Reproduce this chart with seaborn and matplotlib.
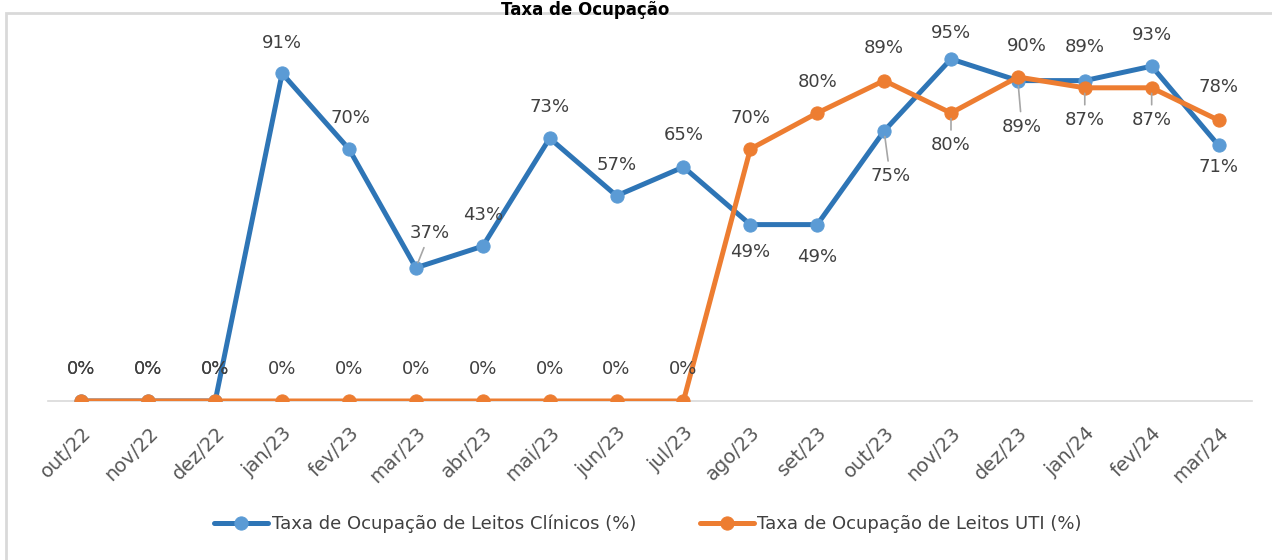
import matplotlib
matplotlib.use("Agg")
import matplotlib.pyplot as plt
import seaborn as sns
import pandas as pd
from matplotlib.patches import Rectangle

# chart data
months = ['out/22', 'nov/22', 'dez/22', 'jan/23', 'fev/23', 'mar/23', 'abr/23', 'mai/23', 'jun/23',
          'jul/23', 'ago/23', 'set/23', 'out/23', 'nov/23', 'dez/23', 'jan/24', 'fev/24', 'mar/24']
clinicos = [0, 0, 0, 91, 70, 37, 43, 73, 57, 65, 49, 49, 75, 95, 89, 89, 93, 71]
uti = [0, 0, 0, 0, 0, 0, 0, 0, 0, 0, 70, 80, 89, 80, 90, 87, 87, 78]
label_clin = 'Taxa de Ocupação de Leitos Clínicos (%)'
label_uti = 'Taxa de Ocupação de Leitos UTI (%)'

# label offsets in pixels (dx, dy) and whether a leader line is drawn
off_clin = [(0, 32), (0, 32), (0, 32), (0, 30), (1, 31), (14, 35), (0, 31), (0, 31), (0, 31),
            (0, 32), (0, -27), (0, -32), (6, -45), (0, 26), (4, -46), (0, 34), (0, 31), (0, -22)]
lead_clin = [False] * 5 + [True] + [False] * 6 + [True, False, True, False, False, False]
off_uti = [(0, 32)] * 10 + [(0, 31), (0, 31), (0, 33), (0, -32), (9, 31), (0, -32), (0, -32), (0, 33)]
lead_uti = [False] * 13 + [True, False, True, True, False]

df = pd.DataFrame({'mes': range(len(months)), 'clin': clinicos, 'uti': uti})

sns.set_style('white')
plt.rcParams['font.family'] = ['DejaVu Sans']

fig = plt.figure(figsize=(12.72, 5.6), dpi=100)
ax = fig.add_axes([48 / 1272, (560 - 401) / 560, (1252 - 48) / 1272, 360 / 560])

BLUE = '#2E75B6'
BLUE_M = '#5B9BD5'
ORANGE = '#ED7D31'

sns.lineplot(data=df, x='mes', y='clin', ax=ax, color=BLUE, lw=3.6, marker='o', markersize=9.5,
             markerfacecolor=BLUE_M, markeredgecolor=BLUE_M, label=label_clin, zorder=3)
sns.lineplot(data=df, x='mes', y='uti', ax=ax, color=ORANGE, lw=3.6, marker='o', markersize=9.5,
             markerfacecolor=ORANGE, markeredgecolor=ORANGE, label=label_uti, zorder=4)

def add_labels(vals, offs, leads):
    for i, v in enumerate(vals):
        dx, dy = offs[i]
        arrow = None
        if leads[i]:
            arrow = dict(arrowstyle='-', color='#A6A6A6', lw=1.2, shrinkA=2, shrinkB=4)
        ax.annotate(f'{v}%', xy=(i, v), xytext=(dx, dy), textcoords='offset pixels',
                    ha='center', va='center', fontsize=13, color='#404040',
                    arrowprops=arrow, zorder=5)

add_labels(clinicos, off_clin, lead_clin)
add_labels(uti, off_uti, lead_uti)

ax.set_xlim(-0.5, len(months) - 0.5)
ax.set_ylim(0, 100)
ax.set_xticks(range(len(months)))
ax.set_xticklabels(months, rotation=45, ha='right', rotation_mode='anchor', fontsize=14, color='#595959')
ax.set_xticks([i - 0.5 for i in range(len(months) + 1)], minor=True)
ax.tick_params(axis='x', which='major', length=0, pad=16)
ax.tick_params(axis='x', which='minor', length=7, color='#D9D9D9', width=1.2, direction='out')
ax.set_yticks([])
ax.set_xlabel('')
ax.set_ylabel('')
for s in ['left', 'top', 'right']:
    ax.spines[s].set_visible(False)
ax.spines['bottom'].set_color('#D9D9D9')
ax.spines['bottom'].set_linewidth(1.2)
ax.patch.set_alpha(0)

ax.legend(loc='center', bbox_to_anchor=(648 / 1272, 1 - 524 / 560), bbox_transform=fig.transFigure,
          ncol=2, frameon=False, fontsize=13, handlelength=3.0, columnspacing=3.5, handletextpad=0.2,
          labelcolor='#404040')

# outer chart frame
fig.patches.append(Rectangle((6 / 1272, -0.1), 1.2, 1.1 - 13 / 560, transform=fig.transFigure,
                             fill=False, edgecolor='#D9D9D9', lw=2))

fig.text(585 / 1272, 1 - 1 / 560, 'Taxa de Ocupação', ha='center', va='top',
         fontsize=12, fontweight='bold', color='#000000')

fig.savefig('out.png', dpi=100, facecolor='white')
